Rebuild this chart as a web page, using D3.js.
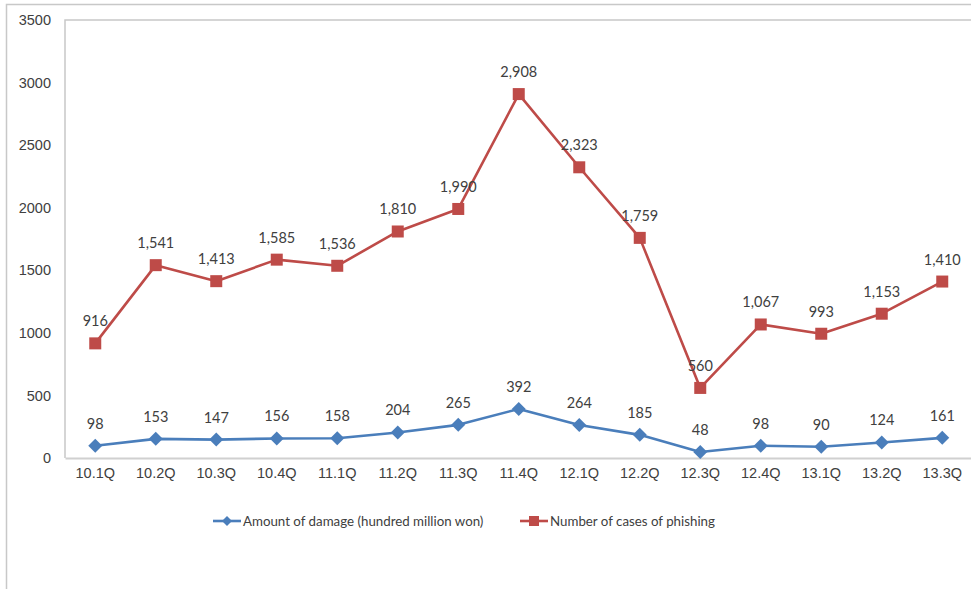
<!DOCTYPE html>
<html>
<head>
<meta charset="utf-8">
<script src="https://cdn.jsdelivr.net/npm/d3@7"></script>
<style>
  html, body { margin: 0; padding: 0; background: #fff; }
  svg { display: block; font-family: Lato, "Open Sans", "Liberation Sans", sans-serif; }
</style>
</head>
<body>
<svg id="chart" width="971" height="589"></svg>
<script>
// Quarterly phishing statistics
const quarters = ["10.1Q","10.2Q","10.3Q","10.4Q","11.1Q","11.2Q","11.3Q","11.4Q","12.1Q","12.2Q","12.3Q","12.4Q","13.1Q","13.2Q","13.3Q"];
const damageAmount = [98,153,147,156,158,204,265,392,264,185,48,98,90,124,161];
const phishingCases = [916,1541,1413,1585,1536,1810,1990,2908,2323,1759,560,1067,993,1153,1410];
const yTicks = [0,500,1000,1500,2000,2500,3000,3500];
const seriesNames = ["Amount of damage (hundred million won)", "Number of cases of phishing"];

const svg = d3.select("#chart");
const W = 971, H = 589;
const plot = { left: 65, top: 20, right: 972.5, bottom: 458 };
const textColor = "#404040";
const fs = 14.5;

// outer chart frame
svg.append("rect")
  .attr("x", 6.5).attr("y", 4.5)
  .attr("width", 980).attr("height", 600)
  .attr("fill", "none").attr("stroke", "#c8c8c8").attr("stroke-width", 1.5);

const x = d3.scaleBand().domain(quarters).range([plot.left, plot.right]);
const y = d3.scaleLinear().domain([0, 3500]).range([plot.bottom, plot.top]);
const cx = q => x(q) + x.bandwidth() / 2;

// plot area frame (top + left)
svg.append("path")
  .attr("d", `M${plot.left},${plot.bottom}V${plot.top}H${W + 5}`)
  .attr("fill", "none").attr("stroke", "#c8c8c8").attr("stroke-width", 1.5);

// y axis
const yAxis = svg.append("g")
  .attr("transform", `translate(${plot.left},0)`)
  .call(d3.axisLeft(y).tickValues(yTicks).tickSize(0).tickPadding(14).tickFormat(d3.format("d")));
yAxis.select(".domain").remove();
yAxis.selectAll("text").attr("font-size", fs).attr("fill", textColor);

// x axis
const xAxis = svg.append("g")
  .attr("transform", `translate(0,${plot.bottom})`)
  .call(d3.axisBottom(x).tickSize(0).tickPadding(10));
xAxis.select(".domain").attr("stroke", "#d0d0d0").attr("stroke-width", 2);
xAxis.selectAll("text").attr("font-size", fs).attr("fill", textColor);

const fmt = d3.format(",");
const blue = "#4A7EBB", red = "#BE4B48";

function drawSeries(values, color, marker) {
  const pts = quarters.map((q, i) => [cx(q), y(values[i]), values[i]]);
  svg.append("path")
    .attr("d", d3.line()(pts.map(p => [p[0], p[1]])))
    .attr("fill", "none").attr("stroke", color).attr("stroke-width", 2.6)
    .attr("stroke-linejoin", "round");
  const g = svg.append("g");
  pts.forEach(p => {
    if (marker === "square") {
      g.append("rect").attr("x", p[0] - 6).attr("y", p[1] - 6)
        .attr("width", 12).attr("height", 12).attr("fill", color);
    } else {
      g.append("path").attr("transform", `translate(${p[0]},${p[1]})`)
        .attr("d", "M0,-7L7,0L0,7L-7,0Z").attr("fill", color);
    }
    svg.append("text")
      .attr("x", p[0]).attr("y", p[1] - 17)
      .attr("text-anchor", "middle")
      .attr("font-size", fs).attr("fill", textColor)
      .text(fmt(p[2]));
  });
}

drawSeries(damageAmount, blue, "diamond");
drawSeries(phishingCases, red, "square");

// legend
const legend = [
  { name: seriesNames[0], color: blue, marker: "diamond", x: 213 },
  { name: seriesNames[1], color: red, marker: "square", x: 520 }
];
const ly = 521;
legend.forEach(l => {
  const g = svg.append("g").attr("transform", `translate(${l.x},${ly})`);
  g.append("line").attr("x1", 0).attr("x2", 28).attr("y1", 0).attr("y2", 0)
    .attr("stroke", l.color).attr("stroke-width", 2.6);
  if (l.marker === "square") {
    g.append("rect").attr("x", 9).attr("y", -5).attr("width", 10).attr("height", 10).attr("fill", l.color);
  } else {
    g.append("path").attr("transform", "translate(14,0)").attr("d", "M0,-5L5,0L0,5L-5,0Z").attr("fill", l.color);
  }
  g.append("text").attr("x", 30).attr("y", 0).attr("dy", "0.35em")
    .attr("font-size", 13.3).attr("fill", textColor).text(l.name);
});
</script>
</body>
</html>
